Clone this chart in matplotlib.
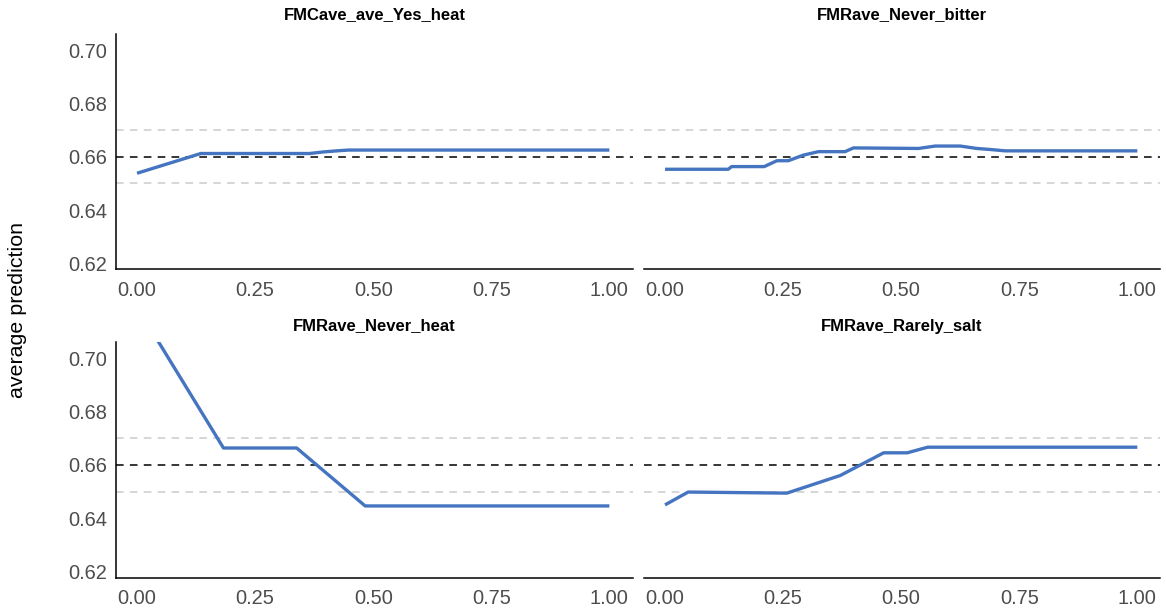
import matplotlib
matplotlib.use("Agg")
import matplotlib.pyplot as plt
from matplotlib.ticker import FormatStrFormatter

plt.rcParams['font.family'] = ['Liberation Sans', 'DejaVu Sans']
plt.rcParams['lines.scale_dashes'] = False

# Partial-dependence curves for four features
titles = ["FMCave_ave_Yes_heat", "FMRave_Never_bitter",
          "FMRave_Never_heat", "FMRave_Rarely_salt"]

x_yes_heat = [0.0, 0.135, 0.365, 0.395, 0.423, 0.448, 1.0]
y_yes_heat = [0.6538, 0.6612, 0.6612, 0.6618, 0.6622, 0.6625, 0.6625]

x_never_bitter = [0.0, 0.134, 0.141, 0.21, 0.237, 0.261, 0.293, 0.325, 0.381,
                  0.399, 0.537, 0.572, 0.625, 0.660, 0.689, 0.720, 1.0]
y_never_bitter = [0.6553, 0.6553, 0.6563, 0.6563, 0.6585, 0.6585, 0.6606, 0.6619,
                  0.6619, 0.6633, 0.6631, 0.6640, 0.6640, 0.6631, 0.6627, 0.6622, 0.6622]

x_never_heat = [0.0, 0.183, 0.338, 0.483, 1.0]
y_never_heat = [0.7192, 0.6663, 0.6663, 0.6446, 0.6446]

x_rarely_salt = [0.0, 0.049, 0.258, 0.371, 0.463, 0.513, 0.556, 1.0]
y_rarely_salt = [0.6450, 0.6498, 0.6494, 0.6560, 0.6645, 0.6645, 0.6666, 0.6666]

mean_prediction = 0.66
band_half_width = 0.01

x_ticks = [0.0, 0.25, 0.50, 0.75, 1.00]
y_ticks = [0.62, 0.64, 0.66, 0.68, 0.70]

series = [(x_yes_heat, y_yes_heat), (x_never_bitter, y_never_bitter),
          (x_never_heat, y_never_heat), (x_rarely_salt, y_rarely_salt)]

W, H = 1166, 610
fig = plt.figure(figsize=(W / 100, H / 100), dpi=100)

# panel boxes in pixels: (left, top, right, bottom) and title baseline centre
boxes = [(116, 34, 633, 269.3), (644, 34, 1160, 269.3),
         (116, 342, 633, 577.5), (644, 342, 1160, 577.5)]
title_y = [15, 15, 326, 326]

line_color = "#4575c0"
tick_color = "#4d4d4d"

for i, ((l, t, r, b), (xs, ys), title) in enumerate(zip(boxes, series, titles)):
    ax = fig.add_axes([l / W, 1 - b / H, (r - l) / W, (b - t) / H])
    left_col = (i % 2 == 0)
    ax.set_xlim(-0.0445, 1.05 if left_col else 1.048)
    ax.set_ylim(0.6178, 0.706)

    ax.axhline(mean_prediction + band_half_width, color="#cccccc", lw=1.1,
               dashes=(5.5, 4.5), zorder=1)
    ax.axhline(mean_prediction - band_half_width, color="#cccccc", lw=1.1,
               dashes=(5.5, 4.5), zorder=1)
    ax.axhline(mean_prediction, color="black", lw=1.1, dashes=(5.5, 4.5), zorder=2)
    ax.plot(xs, ys, color=line_color, lw=2.4, solid_capstyle="butt",
            solid_joinstyle="round", zorder=3)

    for s in ["top", "right"]:
        ax.spines[s].set_visible(False)
    ax.spines["bottom"].set_linewidth(1.1)
    ax.spines["left"].set_linewidth(1.1)
    if not left_col:
        ax.spines["left"].set_visible(False)

    ax.set_xticks(x_ticks)
    ax.xaxis.set_major_formatter(FormatStrFormatter("%.2f"))
    ax.set_yticks(y_ticks)
    ax.yaxis.set_major_formatter(FormatStrFormatter("%.2f"))
    ax.tick_params(axis="x", length=0, pad=8.5, labelsize=14.4, labelcolor=tick_color)
    ax.tick_params(axis="y", length=0, pad=6.5, labelsize=14.4, labelcolor=tick_color,
                   labelleft=left_col)
    ax.set_facecolor("white")
    fig.text((l + r) / 2 / W, 1 - title_y[i] / H, title, ha="center", va="center",
             fontsize=12, fontweight="bold", color="black")

fig.text(18 / W, 1 - 310 / H, "average prediction", rotation=90,
         ha="center", va="center", fontsize=15.4, color="black")

fig.savefig("out.png", dpi=100, facecolor="white")
